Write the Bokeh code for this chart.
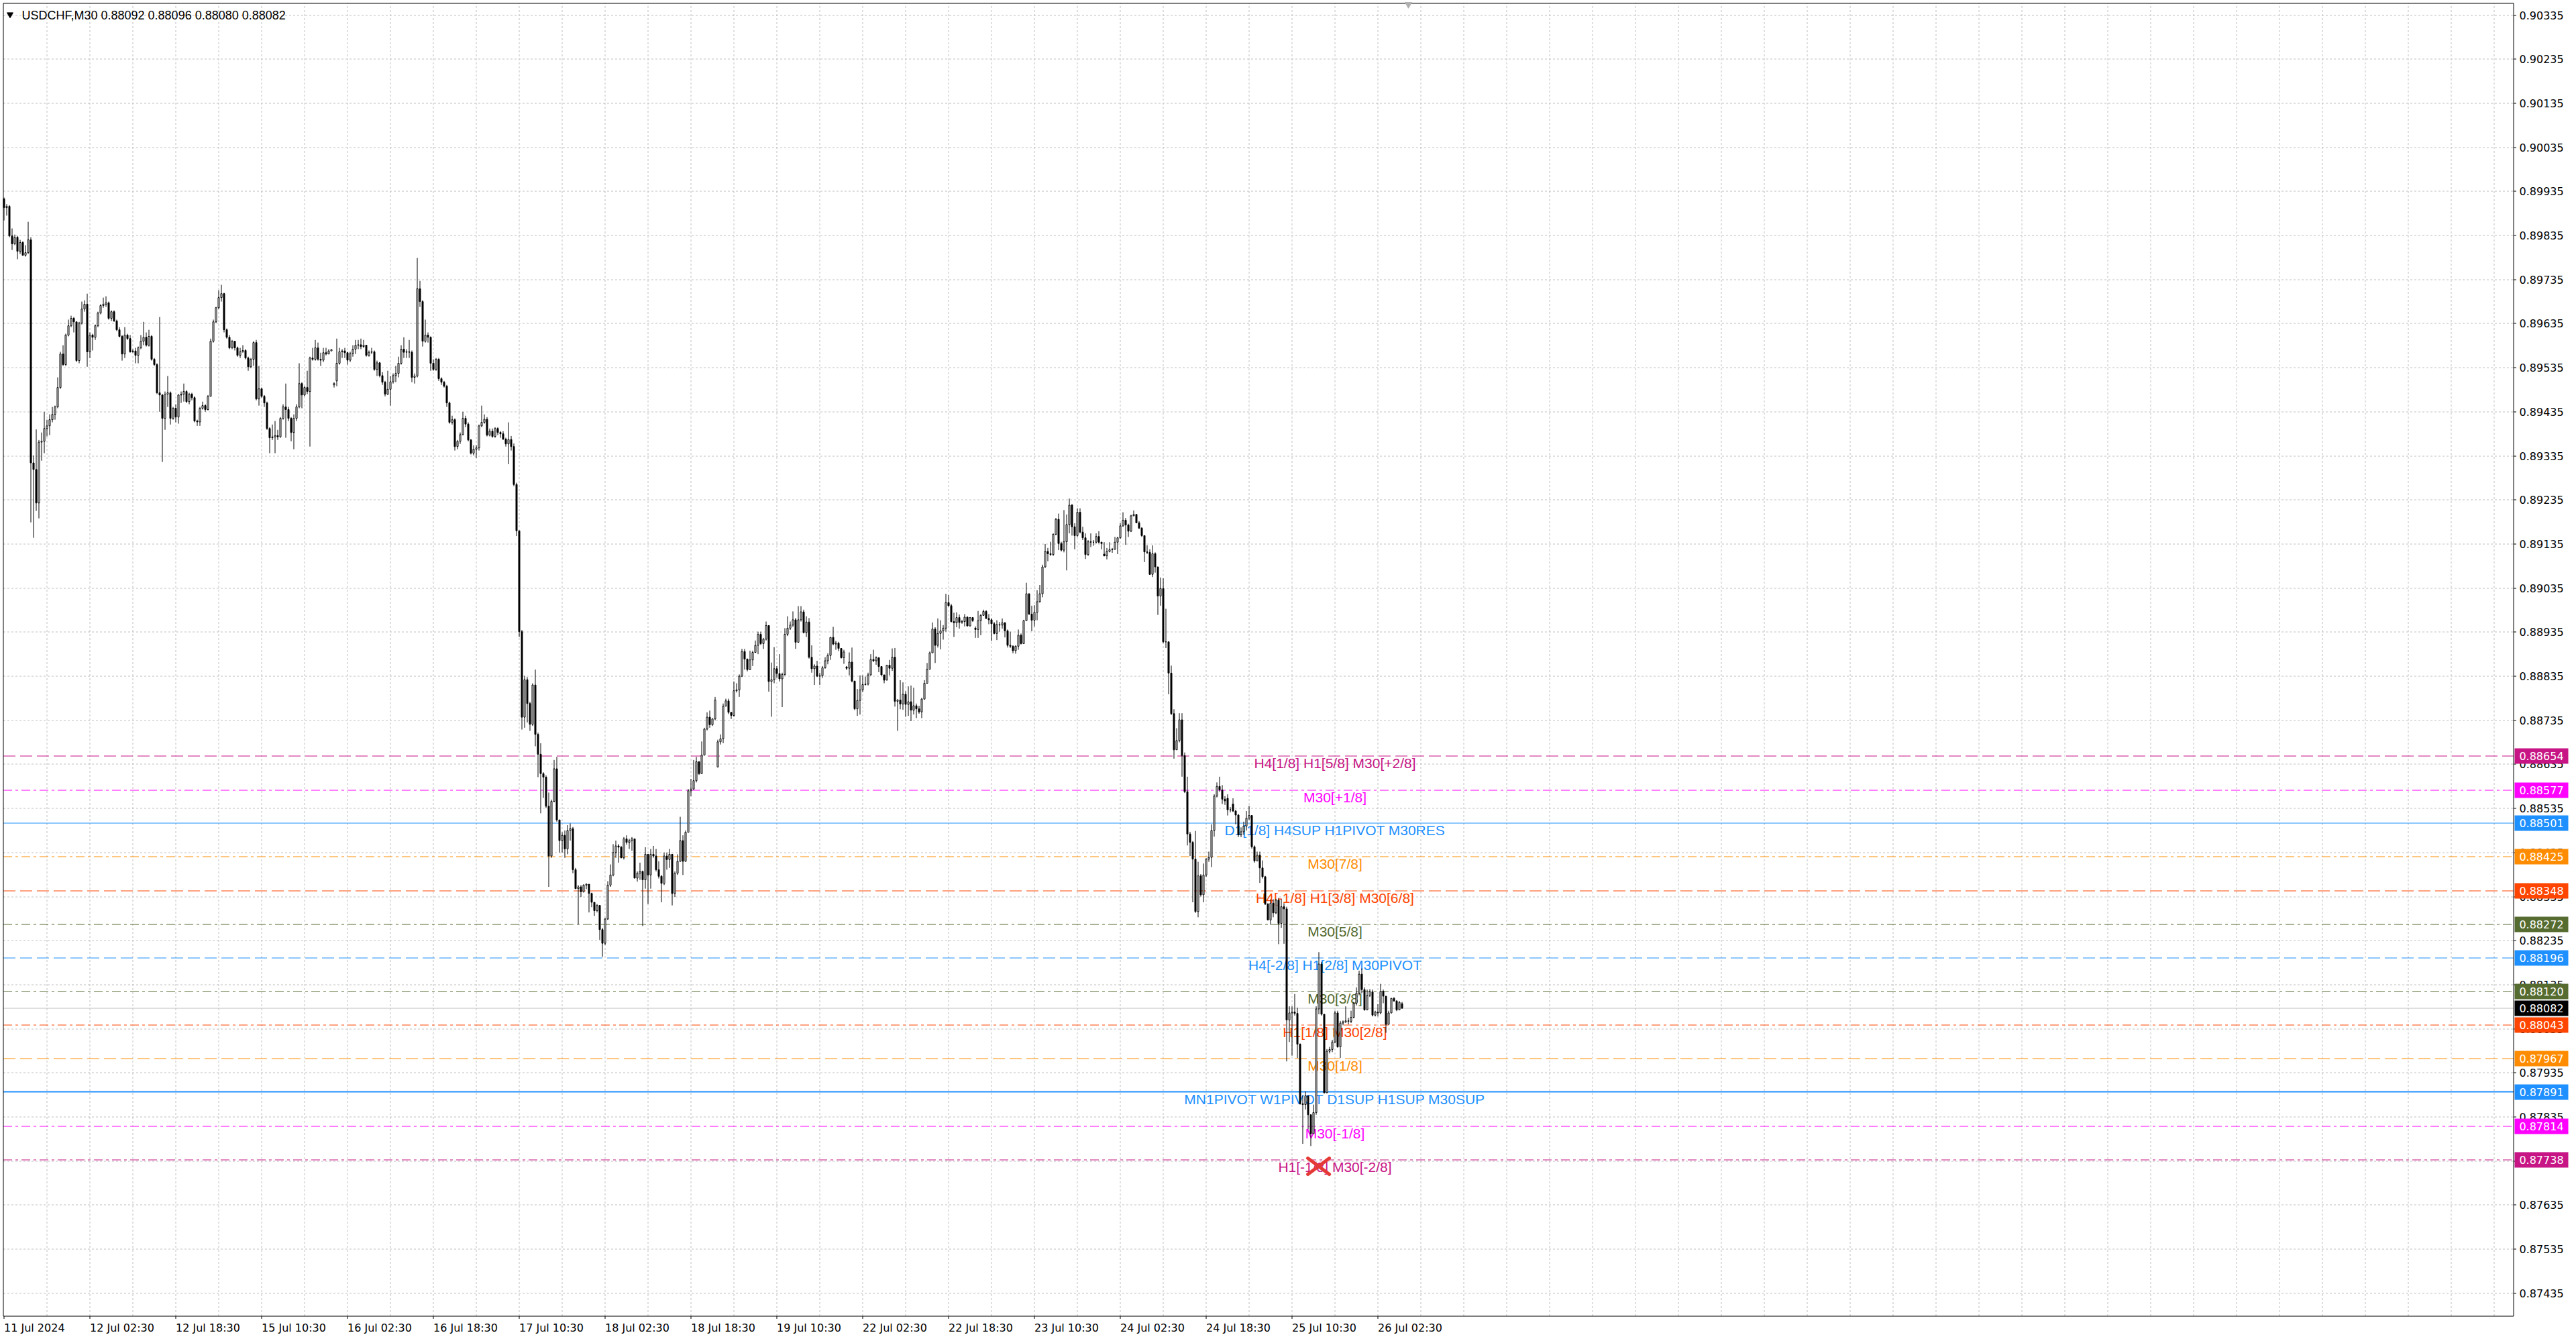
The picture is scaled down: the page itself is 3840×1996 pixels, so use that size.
import math

from bokeh.plotting import figure
from bokeh.models import Range1d
from bokeh.core.properties import value
from bokeh.embed import file_html
from bokeh.resources import INLINE

# USDCHF M30, prices in points (1e-5), one entry per bar
first_open = 89918

closes = [
    89898, 89901, 89834, 89816, 89831, 89799, 89819, 89790, 89796, 89825,
    89319, 89304, 89228, 89366, 89368, 89397, 89403, 89417, 89429, 89446,
    89490, 89566, 89542, 89609, 89630, 89647, 89639, 89551, 89636, 89668,
    89679, 89571, 89609, 89604, 89630, 89659, 89676, 89679, 89682, 89647,
    89662, 89641, 89621, 89606, 89566, 89609, 89601, 89571, 89573, 89563,
    89580, 89595, 89604, 89586, 89606, 89554, 89542, 89478, 89473, 89420,
    89475, 89478, 89420, 89443, 89423, 89473, 89475, 89481, 89458, 89475,
    89467, 89414, 89412, 89443, 89449, 89440, 89470, 89595, 89639, 89671,
    89694, 89703, 89621, 89604, 89580, 89595, 89580, 89563, 89571, 89574,
    89557, 89537, 89554, 89592, 89464, 89487, 89470, 89455, 89397, 89376,
    89378, 89381, 89378, 89420, 89446, 89440, 89420, 89388, 89420, 89446,
    89499, 89473, 89490, 89481, 89557, 89554, 89580, 89554, 89552, 89569,
    89566, 89573, 89576, 89499, 89545, 89571, 89573, 89569, 89552, 89567,
    89577, 89586, 89587, 89583, 89586, 89563, 89570, 89571, 89531, 89546,
    89517, 89502, 89475, 89486, 89503, 89517, 89522, 89545, 89577, 89570,
    89571, 89570, 89513, 89516, 89714, 89685, 89595, 89609, 89604, 89545,
    89531, 89554, 89510, 89502, 89493, 89455, 89411, 89417, 89356, 89368,
    89383, 89420, 89407, 89371, 89341, 89350, 89353, 89403, 89411, 89418,
    89382, 89391, 89379, 89397, 89388, 89385, 89373, 89362, 89372, 89356,
    89270, 89165, 88936, 88742, 88827, 88773, 88726, 88815, 88703, 88658,
    88614, 88606, 88540, 88427, 88551, 88625, 88509, 88462, 88474, 88443,
    88485, 88489, 88396, 88353, 88357, 88346, 88361, 88363, 88342, 88322,
    88303, 88315, 88260, 88229, 88284, 88361, 88384, 88435, 88450, 88447,
    88423, 88466, 88458, 88462, 88466, 88377, 88388, 88392, 88373, 88431,
    88384, 88431, 88427, 88396, 88381, 88365, 88427, 88419, 88431, 88342,
    88388, 88415, 88462, 88415, 88481, 88575, 88579, 88598, 88641, 88614,
    88656, 88715, 88742, 88725, 88738, 88781, 88686, 88693, 88767, 88779,
    88753, 88746, 88802, 88804, 88835, 88891, 88874, 88850, 88872, 88889,
    88905, 88930, 88909, 88919, 88950, 88823, 88827, 88852, 88841, 88829,
    88839, 88930, 88944, 88951, 88963, 88912, 88963, 88981, 88934, 88958,
    88878, 88852, 88858, 88835, 88836, 88854, 88870, 88882, 88923, 88908,
    88910, 88898, 88877, 88890, 88853, 88867, 88824, 88761, 88780, 88804,
    88816, 88817, 88838, 88873, 88870, 88877, 88857, 88838, 88826, 88860,
    88853, 88878, 88778, 88781, 88772, 88794, 88771, 88777, 88758, 88768,
    88761, 88754, 88783, 88819, 88851, 88888, 88942, 88905, 88932, 88938,
    88944, 89002, 88995, 88959, 88956, 88968, 88957, 88959, 88969, 88949,
    88968, 88961, 88941, 88961, 88973, 88982, 88966, 88963, 88954, 88932,
    88952, 88951, 88956, 88938, 88905, 88903, 88893, 88903, 88928, 88909,
    88961, 89022, 88976, 88962, 88980, 89004, 89022, 89083, 89118, 89113,
    89111, 89157, 89191, 89136, 89121, 89140, 89179, 89223, 89174, 89154,
    89207, 89162, 89149, 89111, 89140, 89139, 89139, 89152, 89139, 89136,
    89108, 89118, 89122, 89123, 89139, 89149, 89176, 89189, 89178, 89164,
    89199, 89202, 89183, 89171, 89154, 89117, 89116, 89066, 89113, 89083,
    89017, 89034, 88913, 88913, 88842, 88750, 88668, 88689, 88736, 88655,
    88573, 88477, 88458, 88420, 88301, 88382, 88339, 88384, 88420, 88424,
    88485, 88563, 88585, 88577, 88556, 88552, 88532, 88532, 88529, 88520,
    88475, 88482, 88495, 88513, 88519, 88448, 88416, 88429, 88400, 88380,
    88318, 88282, 88320, 88298, 88327, 88274, 88312, 88307, 88055, 88071,
    88073, 88070, 88000, 87865, 87863, 87883, 87840, 87797, 87845, 88080,
    88182, 88068, 87890, 87984, 87988, 88005, 88071, 87994, 88048, 88051,
    88053, 88052, 88061, 88093, 88116, 88159, 88124, 88078, 88111, 88119,
    88066, 88073, 88071, 88120, 88109, 88045, 88071, 88104, 88098, 88078,
    88095, 88082,
]

highs = [
    89921, 89906, 89904, 89851, 89837, 89834, 89825, 89822, 89813, 89866,
    89831, 89336, 89395, 89371, 89388, 89435, 89417, 89429, 89446, 89449,
    89513, 89571, 89586, 89612, 89644, 89653, 89650, 89639, 89639, 89685,
    89688, 89703, 89615, 89612, 89633, 89662, 89679, 89694, 89697, 89685,
    89665, 89665, 89644, 89627, 89609, 89627, 89612, 89609, 89577, 89580,
    89583, 89609, 89639, 89615, 89621, 89609, 89557, 89545, 89650, 89475,
    89481, 89516, 89481, 89446, 89452, 89475, 89481, 89499, 89484, 89478,
    89478, 89470, 89417, 89446, 89458, 89452, 89473, 89601, 89644, 89673,
    89711, 89723, 89705, 89624, 89609, 89598, 89586, 89583, 89580, 89586,
    89577, 89560, 89557, 89595, 89598, 89539, 89490, 89473, 89458, 89400,
    89406, 89414, 89394, 89423, 89452, 89499, 89446, 89423, 89429, 89452,
    89545, 89502, 89493, 89528, 89560, 89580, 89598, 89592, 89569, 89580,
    89580, 89577, 89577, 89502, 89601, 89580, 89577, 89580, 89571, 89571,
    89586, 89598, 89598, 89601, 89598, 89587, 89574, 89580, 89574, 89551,
    89548, 89525, 89505, 89528, 89516, 89522, 89539, 89560, 89586, 89604,
    89577, 89598, 89574, 89522, 89784, 89732, 89688, 89644, 89615, 89606,
    89554, 89557, 89557, 89513, 89505, 89496, 89458, 89426, 89420, 89371,
    89388, 89435, 89426, 89411, 89373, 89359, 89359, 89406, 89449, 89429,
    89423, 89397, 89397, 89400, 89400, 89391, 89391, 89376, 89411, 89380,
    89363, 89274, 89165, 88940, 88836, 88833, 88777, 88819, 88850, 88707,
    88683, 88617, 88610, 88571, 88555, 88645, 88652, 88509, 88481, 88485,
    88497, 88501, 88493, 88400, 88361, 88361, 88363, 88365, 88347, 88344,
    88321, 88318, 88313, 88264, 88287, 88370, 88408, 88454, 88462, 88454,
    88450, 88470, 88474, 88466, 88470, 88447, 88392, 88412, 88394, 88447,
    88408, 88443, 88450, 88443, 88415, 88384, 88435, 88435, 88443, 88427,
    88392, 88431, 88516, 88474, 88485, 88579, 88602, 88645, 88652, 88642,
    88687, 88718, 88753, 88757, 88740, 88788, 88691, 88703, 88773, 88784,
    88784, 88753, 88823, 88819, 88839, 88897, 88897, 88875, 88893, 88893,
    88916, 88936, 88936, 88922, 88959, 88950, 88866, 88901, 88858, 88885,
    88843, 88944, 88971, 88959, 88982, 88967, 88994, 88994, 88986, 88971,
    88967, 88905, 88862, 88870, 88843, 88858, 88878, 88887, 88924, 88947,
    88915, 88913, 88898, 88895, 88858, 88889, 88900, 88824, 88806, 88837,
    88837, 88834, 88843, 88885, 88895, 88880, 88878, 88857, 88838, 88861,
    88872, 88898, 88899, 88783, 88826, 88821, 88801, 88812, 88814, 88809,
    88773, 88768, 88786, 88826, 88865, 88891, 88957, 88946, 88966, 88962,
    88951, 89022, 89019, 88999, 88979, 88980, 88975, 88963, 88976, 88971,
    88969, 88969, 88948, 88983, 88976, 88986, 88985, 88976, 88966, 88958,
    88962, 88958, 88966, 88958, 88941, 88936, 88905, 88905, 88941, 88932,
    88963, 89047, 89023, 88995, 88996, 89030, 89042, 89088, 89135, 89126,
    89140, 89159, 89194, 89204, 89140, 89212, 89202, 89238, 89226, 89182,
    89216, 89216, 89174, 89159, 89144, 89159, 89144, 89159, 89164, 89140,
    89139, 89126, 89139, 89126, 89151, 89151, 89182, 89207, 89194, 89181,
    89201, 89211, 89203, 89187, 89173, 89154, 89132, 89123, 89132, 89116,
    89083, 89059, 89057, 88988, 88913, 88859, 88760, 88717, 88751, 88751,
    88662, 88607, 88482, 88461, 88484, 88414, 88386, 88410, 88422, 88437,
    88499, 88567, 88594, 88607, 88588, 88563, 88567, 88538, 88558, 88532,
    88522, 88492, 88505, 88529, 88541, 88519, 88451, 88437, 88437, 88417,
    88382, 88320, 88329, 88329, 88330, 88332, 88329, 88320, 88312, 88086,
    88086, 88114, 88083, 88002, 87883, 87893, 87870, 87838, 87863, 88086,
    88209, 88187, 88065, 87989, 87994, 88010, 88076, 88076, 88053, 88054,
    88086, 88060, 88076, 88096, 88129, 88167, 88172, 88129, 88124, 88125,
    88124, 88076, 88091, 88137, 88124, 88109, 88076, 88105, 88107, 88100,
    88098, 88096,
]

lows = [
    89869, 89880, 89831, 89802, 89813, 89781, 89793, 89789, 89787, 89793,
    89184, 89149, 89210, 89193, 89324, 89341, 89379, 89382, 89411, 89417,
    89443, 89487, 89539, 89539, 89606, 89627, 89615, 89548, 89545, 89633,
    89662, 89537, 89557, 89574, 89598, 89627, 89656, 89671, 89673, 89644,
    89641, 89639, 89618, 89604, 89551, 89557, 89598, 89569, 89569, 89545,
    89545, 89577, 89586, 89583, 89583, 89551, 89539, 89475, 89435, 89321,
    89394, 89446, 89406, 89417, 89411, 89408, 89455, 89458, 89455, 89452,
    89461, 89411, 89403, 89403, 89440, 89435, 89438, 89470, 89592, 89636,
    89668, 89685, 89615, 89601, 89577, 89577, 89574, 89560, 89557, 89569,
    89554, 89528, 89534, 89539, 89461, 89449, 89467, 89446, 89394, 89341,
    89371, 89341, 89371, 89376, 89417, 89376, 89414, 89368, 89350, 89414,
    89443, 89443, 89470, 89475, 89356, 89551, 89551, 89551, 89539, 89548,
    89563, 89569, 89573, 89490, 89493, 89542, 89557, 89557, 89542, 89548,
    89560, 89566, 89577, 89577, 89580, 89560, 89560, 89566, 89528, 89516,
    89513, 89496, 89470, 89473, 89449, 89499, 89502, 89513, 89542, 89557,
    89557, 89557, 89502, 89499, 89513, 89673, 89583, 89592, 89592, 89528,
    89528, 89528, 89505, 89496, 89490, 89446, 89408, 89406, 89347, 89350,
    89362, 89382, 89400, 89368, 89338, 89336, 89330, 89347, 89400, 89408,
    89379, 89379, 89376, 89376, 89382, 89376, 89371, 89356, 89316, 89347,
    89266, 89153, 88924, 88714, 88718, 88730, 88711, 88722, 88676, 88606,
    88524, 88559, 88536, 88357, 88423, 88549, 88505, 88435, 88435, 88423,
    88431, 88462, 88388, 88352, 88272, 88334, 88344, 88352, 88299, 88311,
    88291, 88299, 88237, 88198, 88225, 88282, 88357, 88381, 88423, 88412,
    88422, 88419, 88453, 88443, 88439, 88376, 88369, 88373, 88268, 88353,
    88318, 88353, 88423, 88392, 88376, 88322, 88361, 88396, 88400, 88315,
    88334, 88384, 88414, 88384, 88414, 88487, 88563, 88577, 88594, 88611,
    88614, 88655, 88712, 88718, 88722, 88735, 88629, 88680, 88683, 88769,
    88749, 88738, 88743, 88798, 88788, 88833, 88850, 88846, 88849, 88858,
    88888, 88885, 88906, 88897, 88916, 88800, 88743, 88819, 88831, 88823,
    88765, 88836, 88926, 88940, 88947, 88897, 88911, 88959, 88932, 88924,
    88875, 88843, 88815, 88833, 88815, 88831, 88852, 88862, 88872, 88905,
    88895, 88892, 88875, 88863, 88849, 88837, 88821, 88758, 88745, 88748,
    88799, 88814, 88814, 88836, 88867, 88861, 88844, 88836, 88819, 88828,
    88837, 88847, 88766, 88711, 88760, 88759, 88743, 88745, 88733, 88748,
    88740, 88750, 88740, 88782, 88818, 88850, 88888, 88865, 88900, 88896,
    88918, 88936, 88993, 88957, 88924, 88946, 88943, 88954, 88948, 88948,
    88948, 88958, 88922, 88922, 88928, 88973, 88965, 88953, 88915, 88930,
    88917, 88936, 88943, 88923, 88900, 88899, 88887, 88886, 88895, 88907,
    88914, 88961, 88974, 88937, 88948, 88962, 89002, 89014, 89081, 89096,
    89108, 89108, 89155, 89121, 89118, 89116, 89075, 89159, 89154, 89123,
    89151, 89159, 89144, 89101, 89108, 89128, 89131, 89136, 89136, 89123,
    89107, 89100, 89116, 89115, 89122, 89112, 89147, 89174, 89133, 89151,
    89162, 89198, 89182, 89169, 89151, 89094, 89112, 89065, 89060, 89070,
    88974, 88995, 88910, 88899, 88794, 88747, 88648, 88668, 88685, 88607,
    88570, 88451, 88427, 88322, 88298, 88288, 88335, 88322, 88380, 88414,
    88402, 88471, 88560, 88573, 88545, 88543, 88519, 88526, 88527, 88499,
    88470, 88470, 88475, 88485, 88509, 88444, 88412, 88418, 88366, 88376,
    88316, 88281, 88271, 88288, 88295, 88227, 88264, 88228, 87961, 88005,
    87974, 88065, 87969, 87863, 87774, 87852, 87807, 87769, 87802, 87840,
    88068, 88065, 87888, 87889, 87979, 87982, 88002, 87992, 87969, 88043,
    88048, 88045, 88048, 88059, 88088, 88111, 88116, 88076, 88077, 88107,
    88063, 88063, 88063, 88068, 88093, 88026, 88045, 88070, 88097, 88075,
    88077, 88080,
]

# bars whose open is not the previous close (gaps / rollover)
open_gaps = {123: 89496, 124: 89505, 266: 88629, 314: 88856, 362: 88944,
             410: 89112, 456: 88558, 458: 88545, 521: 88092}

time_ticks = [0, 32, 64, 96, 128, 160, 192, 224, 256, 288, 320, 352, 384, 416, 448, 480, 512]
time_labels = ["11 Jul 2024", "12 Jul 02:30", "12 Jul 18:30", "15 Jul 10:30", "16 Jul 02:30",
               "16 Jul 18:30", "17 Jul 10:30", "18 Jul 02:30", "18 Jul 18:30", "19 Jul 10:30",
               "22 Jul 02:30", "22 Jul 18:30", "23 Jul 10:30", "24 Jul 02:30", "24 Jul 18:30",
               "25 Jul 10:30", "26 Jul 02:30"]

price_ticks = [0.87435, 0.87535, 0.87635, 0.87735, 0.87835, 0.87935, 0.88035, 0.88135,
               0.88235, 0.88335, 0.88435, 0.88535, 0.88635, 0.88735, 0.88835, 0.88935,
               0.89035, 0.89135, 0.89235, 0.89335, 0.89435, 0.89535, 0.89635, 0.89735,
               0.89835, 0.89935, 0.90035, 0.90135, 0.90235, 0.90335]

level_prices = [0.88654, 0.88577, 0.88501, 0.88425, 0.88348, 0.88272, 0.88196,
                0.88120, 0.88043, 0.87967, 0.87891, 0.87814, 0.87738]
level_texts = ["H4[1/8] H1[5/8] M30[+2/8]", "M30[+1/8]", "D1[1/8] H4SUP H1PIVOT M30RES",
               "M30[7/8]", "H4[-1/8] H1[3/8] M30[6/8]", "M30[5/8]", "H4[-2/8] H1[2/8] M30PIVOT",
               "M30[3/8]", "H1[1/8] M30[2/8]", "M30[1/8]", "MN1PIVOT W1PIVOT D1SUP H1SUP M30SUP",
               "M30[-1/8]", "H1[-1/8] M30[-2/8]"]
level_colors = ["#C71585", "#FF00FF", "#1E90FF", "#FF8C00", "#FF4500", "#556B2F", "#1E90FF",
                "#556B2F", "#FF4500", "#FF8C00", "#1E90FF", "#FF00FF", "#C71585"]
level_styles = ["dash", "dashdot", "solid", "dashdot", "dash", "dashdot", "dash",
                "dashdot", "dashdot", "dash", "solid", "dashdot", "dashdot"]
level_widths = [1, 1, 1, 1, 1, 1, 1, 1, 1, 1, 2, 1, 1]

bid_price = 0.88082
title_text = "USDCHF,M30  0.88092 0.88096 0.88080 0.88082"

assert len(closes) == len(highs) == len(lows)
n = len(closes)
opens = [first_open] + closes[:-1]
for k, v in open_gaps.items():
    opens[k] = v

xs = list(range(n))
o = [v / 1e5 for v in opens]
c = [v / 1e5 for v in closes]
hi = [max(a, b, d) / 1e5 for a, b, d in zip(highs, opens, closes)]
lo = [min(a, b, d) / 1e5 for a, b, d in zip(lows, opens, closes)]

# page layout: 4 px per bar, 65700 px per price unit
W, H = 3840, 1996
PPX = 1 / 65700.0


def bx(px):
    return (px - 5.5) / 4.0


def py(ypix):
    return 0.90335 - (ypix - 22) * PPX


def row(price):
    # pixel row of a price, centred on the half pixel so 1 px lines stay sharp
    return math.floor(22 + (0.90335 - price) * 65700) + 0.5


def snap(price):
    return py(row(price))


L, R, T, B = bx(4.5), bx(3746.5), py(4.5), py(1961.5)

p = figure(width=W, height=H, title=None,
           x_range=Range1d(bx(0), bx(W)), y_range=Range1d(py(H), py(0)),
           x_axis_location=None, y_axis_location=None,
           toolbar_location=None, output_backend="svg", min_border=0)
p.outline_line_color = None
p.background_fill_color = "white"
p.border_fill_color = "white"
p.grid.visible = False

# grid
k = len(price_ticks)
gy = [snap(v) for v in price_ticks]
p.segment(x0=[L] * k, y0=gy, x1=[R] * k, y1=gy,
          line_color="#C0C0C0", line_width=1, line_dash="3 3")
gx = list(range(16, int(R) + 1, 16))
p.segment(x0=gx, y0=[B] * len(gx), x1=gx, y1=[T] * len(gx),
          line_color="#C0C0C0", line_width=1, line_dash="3 3")

# level lines and bid line
dashes = {"dash": "18 7", "dashdot": "13 5 4 5", "solid": "solid"}
for price, col, sty, lw in zip(level_prices, level_colors, level_styles, level_widths):
    yy = snap(price) if lw == 1 else py(row(price) - 0.5)
    p.segment(x0=[L], y0=[yy], x1=[R], y1=[yy], line_color=col,
              line_dash=dashes[sty], line_width=lw)
p.segment(x0=[L], y0=[snap(bid_price)], x1=[R], y1=[snap(bid_price)],
          line_color="#C0C0C0", line_width=1)

# level captions, centred under each line
p.text(x=[496] * len(level_prices), y=[py(row(v) + 10) for v in level_prices],
       text=level_texts, text_color=level_colors, text_font=value("Liberation Sans"),
       text_font_size="21px", text_align="center", text_baseline="middle")

# candles
up = [i for i in xs if c[i] > o[i]]
dn = [i for i in xs if c[i] <= o[i]]
p.segment(x0=xs, y0=lo, x1=xs, y1=hi, line_color="black", line_width=1)
p.vbar(x=up, bottom=[o[i] for i in up], top=[c[i] for i in up], width=0.5,
       fill_color="white", line_color="black", line_width=1)
p.vbar(x=dn, bottom=[c[i] for i in dn], top=[o[i] for i in dn], width=0.5,
       fill_color="black", line_color="black", line_width=1)

# red cross marker near the lowest line
cx, cy, dx, dy = 489.9, 0.87723, 4.0, 12 * PPX
p.segment(x0=[cx - dx, cx - dx], y0=[cy + dy, cy - dy], x1=[cx + dx, cx + dx], y1=[cy - dy, cy + dy],
          line_color="#E53935", line_width=5, line_cap="round")

# chart frame
p.segment(x0=[L, L, L, R], y0=[T, B, B, B], x1=[R, R, L, R], y1=[T, B, T, T],
          line_color="black", line_width=1)

# header
p.scatter(x=[bx(14.5)], y=[py(21)], marker="inverted_triangle", size=9, color="black")
p.text(x=[bx(32)], y=[py(22)], text=[title_text], text_color="black",
       text_font=value("Liberation Sans"), text_font_size="18px", text_baseline="middle")
p.scatter(x=[bx(2099)], y=[py(6)], marker="inverted_triangle", size=10,
          fill_color="#B0B0B0", line_color="#B0B0B0")

# price scale
p.segment(x0=[R] * k, y0=gy, x1=[bx(3750.5)] * k, y1=gy, line_color="black", line_width=1)
p.text(x=[bx(3755)] * k, y=price_ticks, text=["%.5f" % t for t in price_ticks],
       text_color="black", text_font=value("DejaVu Sans"), text_font_size="16px",
       text_align="left", text_baseline="middle")

# time scale
m = len(time_ticks)
p.segment(x0=time_ticks, y0=[B] * m, x1=time_ticks, y1=[py(1965.5)] * m,
          line_color="black", line_width=1)
p.text(x=time_ticks, y=[py(1969)] * m, text=time_labels, text_color="black",
       text_font=value("DejaVu Sans"), text_font_size="16px",
       text_align="left", text_baseline="top")

# price tags on the right scale
tag_prices = level_prices + [bid_price]
tag_colors = level_colors + ["black"]
t = len(tag_prices)
p.quad(left=[bx(3748)] * t, right=[bx(3828)] * t,
       top=[py(row(v) - 11.5) for v in tag_prices], bottom=[py(row(v) + 11.5) for v in tag_prices],
       fill_color=tag_colors, line_color=None)
p.text(x=[bx(3788)] * t, y=tag_prices, text=["%.5f" % v for v in tag_prices],
       text_color="white", text_font=value("DejaVu Sans"), text_font_size="16px",
       text_align="center", text_baseline="middle")

open("out.html", "w").write(file_html(p, INLINE))
